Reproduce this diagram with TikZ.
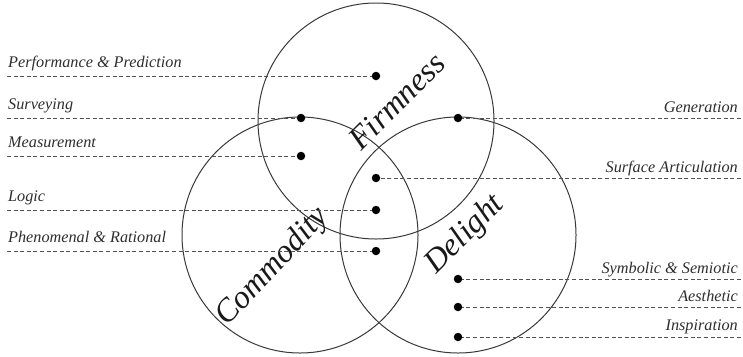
\documentclass[tikz,border=0pt]{standalone}
\usepackage{fontspec}
\setmainfont{Liberation Serif}
\begin{document}
\begin{tikzpicture}[x=1bp,y=-1bp,
  ring/.style={circle, draw=black!78, line width=1bp, minimum size=236bp, inner sep=0, outer sep=0},
  dot/.style={circle, fill=black, inner sep=0, outer sep=0, minimum size=8.5bp},
  lead/.style={draw=black!68, dash pattern=on 4bp off 2.6bp, line width=0.85bp},
  lab/.style={font=\fontsize{16.3}{19}\selectfont\itshape, text=black!82, inner sep=0},
  big/.style={font=\fontsize{32.5}{36}\selectfont\itshape, text=black!90, inner sep=0}]
\useasboundingbox (0,0) rectangle (743,356);
% circles
\node[ring] (firm) at (376,121) {};
\node[ring] (comm) at (300,235) {};
\node[ring] (deli) at (458,235) {};
% big labels
\node[big, rotate=45] (tfirm) at (397,101) {Firmness};
\node[big, rotate=47] (tcomm) at (273,267) {Commodity};
\node[big, rotate=45] (tdeli) at (465,235) {Delight};
% dots
\node[dot] (pp) at (376,76) {};
\node[dot] (sv) at (301,118) {};
\node[dot] (ms) at (301,156) {};
\node[dot] (lg) at (376,210) {};
\node[dot] (pr) at (376,251) {};
\node[dot] (gn) at (458,118) {};
\node[dot] (sa) at (376,178) {};
\node[dot] (ss) at (458,279) {};
\node[dot] (ae) at (458,307) {};
\node[dot] (in) at (458,337) {};
% free ends
\coordinate (ppL) at (7,76);
\coordinate (svL) at (7,118);
\coordinate (msL) at (7,156);
\coordinate (lgL) at (7,210);
\coordinate (prL) at (7,251);
\coordinate (gnR) at (741,118);
\coordinate (saR) at (741,178);
\coordinate (ssR) at (741,279);
\coordinate (aeR) at (741,307);
\coordinate (inR) at (741,337);
% leaders
\foreach \a/\b in {ppL/pp, svL/sv, msL/ms, lgL/lg, prL/pr, gnR/gn, saR/sa, ssR/ss, aeR/ae, inR/in}
  \draw[lead] (\a) -- (\b);
% labels
\node[lab, anchor=base west] (tpp) at (8,67) {Performance \& Prediction};
\node[lab, anchor=base west] (tsv) at (8,109) {Surveying};
\node[lab, anchor=base west] (tms) at (8,147) {Measurement};
\node[lab, anchor=base west] (tlg) at (8,201) {Logic};
\node[lab, anchor=base west] (tpr) at (8,242) {Phenomenal \& Rational};
\node[lab, anchor=base east] (tgn) at (738,112) {Generation};
\node[lab, anchor=base east] (tsa) at (738,172) {Surface Articulation};
\node[lab, anchor=base east] (tss) at (738,273) {Symbolic \& Semiotic};
\node[lab, anchor=base east] (tae) at (738,301) {Aesthetic};
\node[lab, anchor=base east] (tin) at (738,330) {Inspiration};
\end{tikzpicture}
\end{document}
